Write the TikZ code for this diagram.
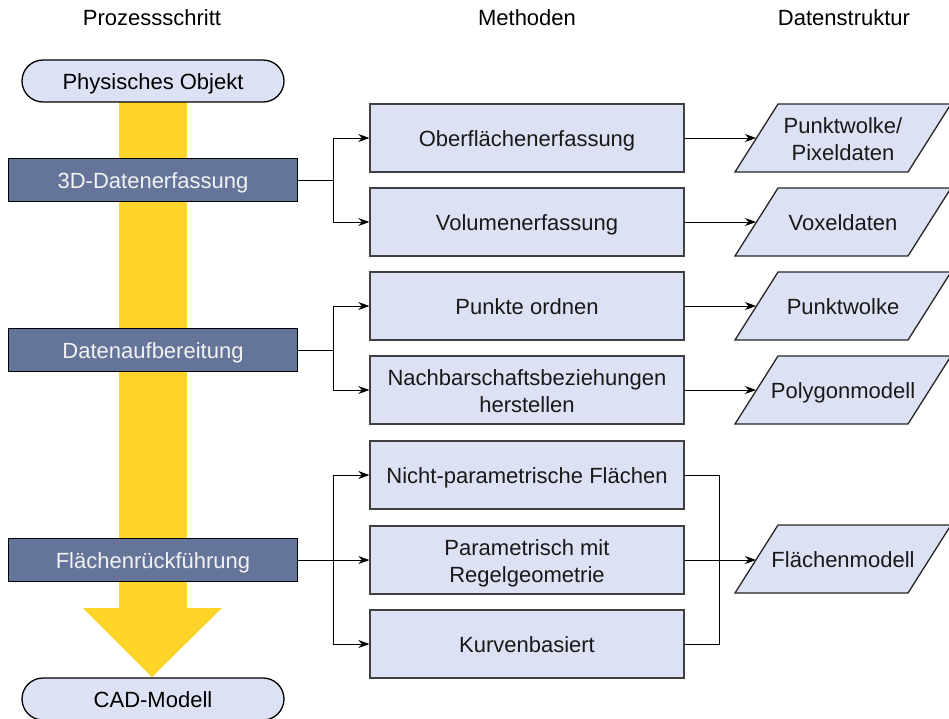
\documentclass[tikz,border=0pt]{standalone}
\usepackage{fontspec}
\setmainfont{Liberation Sans}
\usetikzlibrary{arrows.meta}
\definecolor{paleblue}{HTML}{DCE2F4}
\definecolor{slate}{HTML}{647599}
\definecolor{flowyellow}{HTML}{FFD42A}
\definecolor{lighttext}{HTML}{F2F2F2}
\newcommand\datashape[2]{%
  % parallelogram around the data-structure label centred at (#1,#2)
  \draw[dbox] (#1-108,#2+34) -- (#1-65,#2-34) -- (#1+108,#2-34) -- (#1+65,#2+34) -- cycle;}
\begin{document}
\begin{tikzpicture}[x=1pt,y=-1pt,
  font=\fontsize{22}{27}\selectfont,
  oneline/.style={text height=19.8pt, text depth=2.2pt},
  twoline/.style={text height=46.8pt, text depth=2.2pt},
  header/.style={inner sep=0, text=black, oneline},
  pill/.style={draw=black, line width=1.3pt, fill=paleblue, rounded corners=21pt,
    minimum width=262pt, minimum height=42pt, inner sep=0, oneline},
  stepbox/.style={draw=black, line width=1.3pt, fill=slate, text=lighttext,
    minimum width=289pt, minimum height=43pt, inner sep=0, oneline},
  methbox/.style={draw=black!75, line width=1.3pt, fill=paleblue, text=black!90,
    minimum width=314pt, minimum height=68pt, align=center, inner sep=0},
  dbox/.style={draw=black!85, line width=1.3pt, fill=paleblue},
  dtext/.style={align=center, inner sep=0, text=black!90},
  link/.style={line width=1pt, draw=black},
  arr/.style={link, -{Stealth[length=11pt,width=8pt,inset=3.5pt]}}]
\useasboundingbox (0,0) rectangle (949,718);

% column headers
\node[header] (hproc) at (152,17) {Prozessschritt};
\node[header] (hmeth) at (527,17) {Methoden};
\node[header] (hdata) at (844,17) {Datenstruktur};

% big process arrow in the background
\fill[flowyellow] (119,98) rectangle (187,609);
\fill[flowyellow] (83,608) -- (222,608) -- (152,677) -- cycle;

% start and end
\node[pill] (phys) at (153,81) {Physisches Objekt};
\node[pill] (cad) at (153,699) {CAD-Modell};

% process steps
\node[stepbox] (s1) at (153,180) {3D-Datenerfassung};
\node[stepbox] (s2) at (153,350) {Datenaufbereitung};
\node[stepbox] (s3) at (153,560) {Flächenrückführung};

% methods
\node[methbox, oneline] (m1) at (527,138) {Oberflächenerfassung};
\node[methbox, oneline] (m2) at (527,222) {Volumenerfassung};
\node[methbox, oneline] (m3) at (527,306) {Punkte ordnen};
\node[methbox, twoline] (m4) at (527,390) {Nachbarschaftsbeziehungen\\herstellen};
\node[methbox, oneline] (m5) at (527,475) {Nicht-parametrische Flächen};
\node[methbox, twoline] (m6) at (527,560) {Parametrisch mit\\Regelgeometrie};
\node[methbox, oneline] (m7) at (527,644) {Kurvenbasiert};

% data structures
\datashape{843}{138}
\datashape{843}{222}
\datashape{843}{306}
\datashape{843}{390}
\datashape{843}{559}
\node[dtext, twoline] (d1) at (843,138) {Punktwolke/\\Pixeldaten};
\node[dtext, oneline] (d2) at (843,222) {Voxeldaten};
\node[dtext, oneline] (d3) at (843,306) {Punktwolke};
\node[dtext, oneline] (d4) at (843,390) {Polygonmodell};
\node[dtext, oneline] (d5) at (843,559) {Flächenmodell};
\coordinate (d1w) at (756,138);
\coordinate (d2w) at (756,222);
\coordinate (d3w) at (756,306);
\coordinate (d4w) at (756,390);
\coordinate (d5w) at (756,560);

% branching points
\coordinate (b1) at (333,180);
\coordinate (b2) at (333,350);
\coordinate (b3) at (333,560);
\coordinate (j3) at (719,560);

% process step -> methods
\draw[link] (s1.east) -- (b1);
\draw[arr] (b1) |- (m1.west);
\draw[arr] (b1) |- (m2.west);
\draw[link] (s2.east) -- (b2);
\draw[arr] (b2) |- (m3.west);
\draw[arr] (b2) |- (m4.west);
\draw[arr] (s3.east) -- (m6.west);
\draw[arr] (b3) |- (m5.west);
\draw[arr] (b3) |- (m7.west);

% methods -> data structures
\draw[arr] (m1.east) -- (d1w);
\draw[arr] (m2.east) -- (d2w);
\draw[arr] (m3.east) -- (d3w);
\draw[arr] (m4.east) -- (d4w);
\draw[link] (m5.east) -| (j3) |- (m7.east);
\draw[arr] (m6.east) -- (d5w);
\end{tikzpicture}
\end{document}
